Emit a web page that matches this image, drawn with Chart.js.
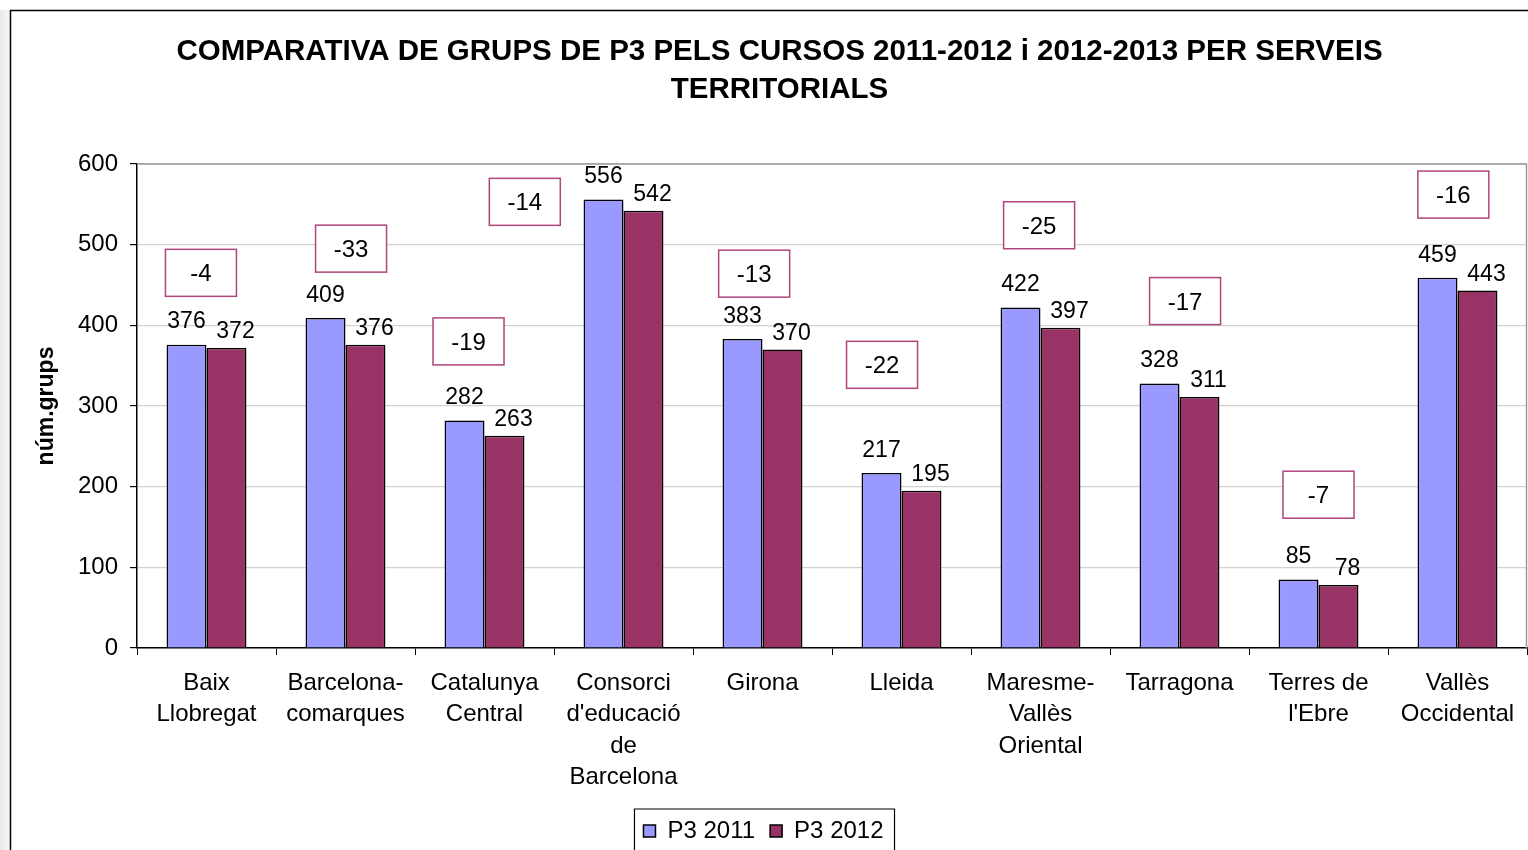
<!DOCTYPE html>
<html><head><meta charset="utf-8">
<script src="https://cdn.jsdelivr.net/npm/chart.js@4/dist/chart.umd.min.js"></script>
<style>html,body{margin:0;padding:0;background:#fff;overflow:hidden}#wrap{width:1528px;height:850px;position:relative}</style>
</head><body><div id="wrap"><canvas id="c" width="1528" height="850"></canvas></div>
<script>
const categories = [['Baix','Llobregat'],['Barcelona-','comarques'],['Catalunya','Central'],['Consorci',"d'educació",'de','Barcelona'],['Girona'],['Lleida'],['Maresme-','Vallès','Oriental'],['Tarragona'],['Terres de',"l'Ebre"],['Vallès','Occidental']];
const seriesNames = ['P3 2011','P3 2012'];
const p3_2011 = [376,409,282,556,383,217,422,328,85,459];
const p3_2012 = [372,376,263,542,370,195,397,311,78,443];
const yTicks = [0,100,200,300,400,500,600];
const titleLines = ['COMPARATIVA DE GRUPS DE P3 PELS CURSOS 2011-2012 i 2012-2013 PER SERVEIS','TERRITORIALS'];
const yTitle = 'núm.grups';
// difference call-out boxes: centre on value axis and offset in category widths
const diffBoxY = [465,495,380,553,464,351,524,430,190,562];
const diffBoxDX = [-0.04,0.04,-0.115,-0.71,-0.06,-0.14,-0.01,0.04,0,-0.03];

const FONT = "'Liberation Sans', Arial, sans-serif";
Chart.defaults.font.family = FONT;
Chart.defaults.color = '#000';

const decor = {
  id: 'decor',
  beforeDraw(chart) {
    const ctx = chart.ctx;
    ctx.save();
    ctx.fillStyle = '#fff';
    ctx.fillRect(0, 0, chart.width, chart.height);
    const g = ctx.createLinearGradient(0, 0, 10, 0);
    g.addColorStop(0, '#e8e8e8'); g.addColorStop(1, '#f6f6f6');
    ctx.fillStyle = g;
    ctx.fillRect(0, 10, 10, chart.height);
    ctx.strokeStyle = '#000'; ctx.lineWidth = 1.5;
    ctx.beginPath();
    ctx.moveTo(10.5, chart.height); ctx.lineTo(10.5, 10.5); ctx.lineTo(chart.width, 10.5);
    ctx.stroke();
    ctx.restore();
  },
  afterLayout(chart) {
    if (chart.titleBlock) chart.titleBlock.left += 32;
  },
  afterDraw(chart) {
    const ctx = chart.ctx, a = chart.chartArea;
    const xs = chart.scales.x, ys = chart.scales.y;
    ctx.save();
    // plot area top/right border
    ctx.strokeStyle = '#9a9a9a'; ctx.lineWidth = 1.5;
    ctx.beginPath();
    ctx.moveTo(a.left, a.top); ctx.lineTo(a.right - 0.5, a.top); ctx.lineTo(a.right - 0.5, a.bottom);
    ctx.stroke();
    // value labels
    ctx.fillStyle = '#000';
    ctx.font = '23px ' + FONT;
    ctx.textAlign = 'center'; ctx.textBaseline = 'middle';
    const m0 = chart.getDatasetMeta(0), m1 = chart.getDatasetMeta(1);
    m0.data.forEach((el, i) => ctx.fillText(String(p3_2011[i]), el.x, el.y - 22.5));
    m1.data.forEach((el, i) => ctx.fillText(String(p3_2012[i]), el.x + 9, el.y - 16));
    // difference boxes
    const catW = (a.right - a.left) / categories.length;
    ctx.font = '24px ' + FONT;
    for (let i = 0; i < categories.length; i++) {
      const cx = xs.getPixelForValue(i) + diffBoxDX[i] * catW;
      const cy = ys.getPixelForValue(diffBoxY[i]);
      ctx.fillStyle = '#fff';
      ctx.fillRect(cx - 35.5, cy - 23.5, 71, 47);
      ctx.strokeStyle = '#b0457c'; ctx.lineWidth = 1.5;
      ctx.strokeRect(cx - 35.5, cy - 23.5, 71, 47);
      ctx.fillStyle = '#000';
      ctx.fillText(String(p3_2012[i] - p3_2011[i]), cx, cy + 2);
    }
    // legend frame
    const hb = chart.legend.legendHitBoxes;
    if (hb && hb.length) {
      const l = hb[0].left - 9, r = hb[hb.length - 1].left + hb[hb.length - 1].width + 11;
      const t = hb[0].top - 10;
      ctx.strokeStyle = '#000'; ctx.lineWidth = 1.2;
      ctx.beginPath();
      ctx.moveTo(l, chart.height); ctx.lineTo(l, t); ctx.lineTo(r, t); ctx.lineTo(r, chart.height);
      ctx.stroke();
    }
    ctx.restore();
  }
};

new Chart(document.getElementById('c'), {
  type: 'bar',
  data: {
    labels: categories,
    datasets: [
      { label: seriesNames[0], data: p3_2011, backgroundColor: '#9999ff', borderColor: '#000', borderWidth: 1.5,
        categoryPercentage: 0.575, barPercentage: 1 },
      { label: seriesNames[1], data: p3_2012, backgroundColor: '#993366', borderColor: '#000', borderWidth: 1.5,
        categoryPercentage: 0.575, barPercentage: 1 }
    ]
  },
  options: {
    responsive: false,
    animation: false,
    layout: { padding: { left: 0, right: 1, top: 0, bottom: -3 } },
    plugins: {
      title: {
        display: true, text: titleLines, color: '#000',
        font: { size: 29.5, weight: 'bold', lineHeight: 1.27, family: FONT },
        padding: { top: 33.5, bottom: 55.5 }
      },
      legend: {
        position: 'bottom',
        labels: { boxWidth: 12, boxHeight: 12, padding: 15, color: '#000', font: { size: 24, family: FONT } }
      },
      tooltip: { enabled: false }
    },
    scales: {
      x: {
        offset: true,
        grid: { offset: true, drawOnChartArea: false, color: '#000', tickColor: '#000', tickLength: 7, lineWidth: 1 },
        border: { color: '#000', width: 1.5 },
        ticks: { color: '#000', font: { size: 24, lineHeight: 1.3 }, padding: 13, maxRotation: 0, autoSkip: false },
        afterFit(s) { s.height = 156; }
      },
      y: {
        min: yTicks[0], max: yTicks[yTicks.length - 1],
        afterBuildTicks(s) { s.ticks = yTicks.map(v => ({ value: v })); },
        grid: { color: '#d2d2d2', tickColor: '#000', tickLength: 7, lineWidth: 1.2 },
        border: { color: '#000', width: 1.5 },
        ticks: { color: '#000', font: { size: 24 }, padding: 12 },
        title: { display: true, text: yTitle, color: '#000', font: { size: 23, weight: 'bold' }, padding: { top: 33, bottom: 0 } },
        afterFit(s) { s.width = 137; }
      }
    }
  },
  plugins: [decor]
});
</script>
</body></html>
